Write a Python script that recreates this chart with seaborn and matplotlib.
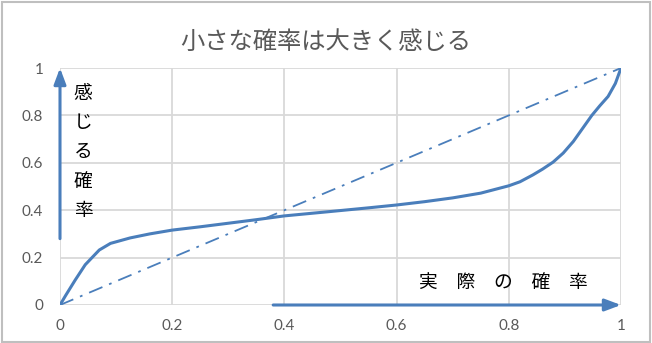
import matplotlib
matplotlib.use("Agg")
import matplotlib.pyplot as plt
import seaborn as sns
import pandas as pd

# ---- data ----
actual_prob = [0.0, 0.01, 0.027, 0.045, 0.07, 0.09, 0.125, 0.16, 0.2, 0.25, 0.3, 0.35, 0.4,
               0.48, 0.55, 0.6, 0.65, 0.7, 0.75, 0.8, 0.82, 0.843, 0.86, 0.879, 0.897, 0.915,
               0.93, 0.948, 0.962, 0.977, 0.99, 1.0]
felt_prob = [0.0, 0.04, 0.105, 0.17, 0.232, 0.26, 0.283, 0.3, 0.316, 0.33, 0.345, 0.36, 0.376,
             0.394, 0.41, 0.422, 0.436, 0.452, 0.472, 0.503, 0.52, 0.549, 0.573, 0.603, 0.641, 0.69,
             0.74, 0.80, 0.84, 0.88, 0.935, 1.0]
diag_x = [0.0, 1.0]
diag_y = [0.0, 1.0]
ticks = [0, 0.2, 0.4, 0.6, 0.8, 1]
tick_labels = ["0", "0.2", "0.4", "0.6", "0.8", "1"]
title = "小さな確率は大きく感じる"
ylabel_text = "感\nじ\nる\n確\n率"
xlabel_text = "実　際　の　確　率"

sns.set_theme(style="white")
plt.rcParams['font.family'] = ['Noto Sans CJK JP', 'DejaVu Sans']

blue = "#4a7ebb"
gray_txt = "#595959"
grid_c = "#d9d9d9"

fig = plt.figure(figsize=(6.52, 3.43), dpi=100)
ax = fig.add_axes([60/652, 1-305/343, 561/652, 237/343])

df = pd.DataFrame({"x": actual_prob, "y": felt_prob})
sns.lineplot(data=df, x="x", y="y", ax=ax, color=blue, linewidth=2.2, sort=False)
ax.plot(diag_x, diag_y, color=blue, linewidth=1.3, linestyle=(0, (8, 4, 1.5, 4)))

ax.set_xlim(0, 1)
ax.set_ylim(0, 1)
ax.set_xticks(ticks)
ax.set_xticklabels(tick_labels, family=["Lato", "DejaVu Sans"])
ax.set_yticks(ticks)
ax.set_yticklabels(tick_labels, family=["Lato", "DejaVu Sans"])
ax.tick_params(axis="x", length=0, labelsize=11, colors=gray_txt, pad=10)
ax.tick_params(axis="y", length=0, labelsize=11, colors=gray_txt, pad=12)
ax.grid(True, color=grid_c, linewidth=1.3)
ax.set_axisbelow(True)
for s in ax.spines.values():
    s.set_visible(False)
ax.set_xlabel("")
ax.set_ylabel("")

# arrows
ax.annotate("", xy=(0.0, 1.0), xytext=(0.0, 0.28),
            arrowprops=dict(arrowstyle="-|>,head_length=0.8,head_width=0.3", color=blue, lw=2.2,
                            shrinkA=0, shrinkB=0), annotation_clip=False)
ax.annotate("", xy=(1.0, 0.0), xytext=(0.38, 0.0),
            arrowprops=dict(arrowstyle="-|>,head_length=0.8,head_width=0.3", color=blue, lw=2.2,
                            shrinkA=0, shrinkB=0), annotation_clip=False)

ax.text(0.041, (305-152)/237, ylabel_text, ha="center", va="center",
        fontsize=13.5, color="black", linespacing=1.53)
ax.text(0.79, 0.093, xlabel_text, ha="center", va="center", fontsize=13.5, color="black")

fig.text(0.5, 1-42/343, title, ha="center", va="center", fontsize=17.5, color=gray_txt)

# border
fig.patches.append(plt.Rectangle((0.003, 0.004), 0.994, 0.99, transform=fig.transFigure,
                                 fill=False, edgecolor="#bfbfbf", linewidth=1.5))

fig.savefig("out.png", dpi=100)
